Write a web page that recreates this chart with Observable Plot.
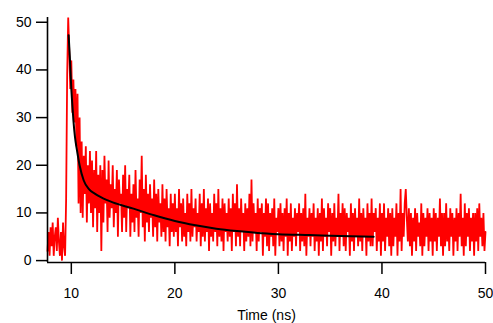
<!DOCTYPE html>
<html>
<head>
<meta charset="utf-8">
<script src="https://cdn.jsdelivr.net/npm/d3@7"></script>
<script src="https://cdn.jsdelivr.net/npm/@observablehq/plot@0.6"></script>
<style>
  html, body { margin: 0; padding: 0; background: #fff; }
  svg { display: block; }
</style>
</head>
<body>
<div id="chart"></div>
<script>
// Sampling grid of the measured decay (ns)
const tStart = 7.7;
const tStep = 0.1;

// Measured counts, one per sample from 7.7 ns to 50.0 ns
const counts = [
  2, 6, 1,
  7, 3, 8, 1, 5, 7, 2, 9, 4, 1,
  6, 0, 8, 3, 1, 13, 39, 51, 44, 36,
  42, 31, 38, 29, 36, 24, 35, 12, 30, 10,
  25, 9, 22, 14, 24, 8, 20, 12, 23, 10,
  21, 7, 19, 11, 23, 6, 18, 10, 20, 2,
  19, 8, 22, 12, 17, 6, 21, 9, 16, 11,
  20, 7, 15, 10, 19, 5, 17, 12, 14, 6,
  18, 9, 20, 6, 15, 11, 18, 5, 14, 8,
  16, 6, 19, 9, 13, 5, 17, 10, 22, 7,
  15, 4, 18, 8, 14, 6, 16, 9, 13, 5,
  17, 7, 14, 4, 15, 8, 12, 5, 16, 6,
  13, 4, 15, 7, 11, 3, 14, 6, 12, 5,
  14, 6, 11, 3, 15, 7, 12, 4, 13, 5,
  10, 3, 14, 6, 12, 4, 15, 5, 11, 7,
  13, 4, 10, 6, 14, 3, 12, 5, 15, 4,
  11, 6, 13, 2, 12, 5, 10, 4, 14, 6,
  12, 3, 15, 5, 11, 4, 13, 2, 12, 6,
  10, 4, 13, 5, 11, 2, 14, 6, 12, 3,
  16, 5, 11, 3, 13, 6, 10, 2, 12, 4,
  11, 5, 14, 3, 17, 4, 12, 6, 10, 2,
  13, 4, 11, 6, 12, 1, 10, 5, 13, 3,
  12, 2, 10, 5, 11, 3, 13, 1, 9, 6,
  11, 3, 12, 4, 10, 2, 11, 5, 13, 1,
  10, 4, 12, 2, 9, 5, 11, 3, 10, 6,
  12, 2, 10, 4, 11, 3, 14, 1, 9, 5,
  11, 3, 10, 5, 12, 2, 9, 4, 11, 1,
  10, 4, 13, 2, 11, 5, 9, 3, 12, 6,
  11, 1, 10, 4, 12, 3, 9, 5, 14, 2,
  10, 5, 12, 3, 11, 2, 10, 6, 9, 1,
  12, 4, 10, 2, 11, 5, 9, 3, 13, 4,
  10, 2, 11, 5, 9, 1, 12, 4, 10, 3,
  13, 3, 10, 6, 11, 2, 9, 4, 12, 1,
  10, 4, 12, 2, 9, 5, 11, 3, 10, 1,
  11, 3, 9, 5, 12, 1, 10, 4, 15, 2,
  10, 5, 12, 15, 9, 4, 11, 3, 10, 1,
  9, 4, 11, 2, 10, 5, 8, 3, 12, 1,
  10, 3, 9, 5, 11, 2, 10, 4, 9, 1,
  11, 4, 10, 2, 9, 5, 13, 3, 10, 1,
  10, 3, 12, 4, 9, 2, 11, 5, 10, 1,
  9, 4, 11, 2, 10, 5, 14, 3, 9, 1,
  12, 3, 10, 5, 11, 2, 9, 4, 10, 1,
  10, 4, 11, 2, 12, 5, 9, 3, 10, 2,
  6
];

// Fitted decay curve (time ns, counts)
const fitTime = [9.74, 9.85, 10.0, 10.07, 10.2, 10.35, 10.55, 10.8, 11.2, 11.7, 12.3, 12.85, 14, 16, 18, 20, 22, 24, 26, 28, 30, 33, 36, 39.2];
const fitValue = [47.3, 43, 36, 33.6, 29.5, 26, 23.1, 20, 16.8, 15, 14, 13.3, 12.2, 10.9, 9.5, 8.3, 7.4, 6.7, 6.2, 5.8, 5.55, 5.35, 5.15, 5.0];

// Axis ticks
const xTicks = [10, 20, 30, 40, 50];
const yTicks = [0, 10, 20, 30, 40, 50];
const xLabel = "Time (ns)";

const measured = counts.map((v, i) => ({t: Math.round((tStart + tStep * i) * 100) / 100, v}));
const fit = fitTime.map((t, i) => ({t, v: fitValue[i]}));

const xDomain = [7.7, 50];
const yDomain = [-0.4, 51];

const chart = Plot.plot({
  width: 493,
  height: 323,
  marginLeft: 47,
  marginRight: 8,
  marginTop: 17,
  marginBottom: 61,
  style: {fontFamily: "Liberation Sans, Arial, sans-serif", fontSize: "13.5px", background: "#fff", color: "#000"},
  x: {domain: xDomain},
  y: {domain: yDomain},
  marks: [
    Plot.line(measured, {x: "t", y: "v", stroke: "#ff0000", strokeWidth: 1.8, strokeLinejoin: "miter", strokeMiterlimit: 2}),
    Plot.line(fit, {x: "t", y: "v", stroke: "#000", strokeWidth: 2, curve: "monotone-x"}),
    Plot.ruleX([xDomain[0]], {y1: yDomain[0], y2: yDomain[1], stroke: "#000", strokeWidth: 1.6}),
    Plot.ruleY([yDomain[0]], {x1: xDomain[0], x2: xDomain[1], stroke: "#000", strokeWidth: 1.6}),
    Plot.axisX(xTicks, {tickSize: 12, tickPadding: 14, strokeWidth: 1.5, fontSize: 14, label: null}),
    Plot.axisY(yTicks, {tickSize: 11, tickPadding: 5, strokeWidth: 1.5, fontSize: 14, label: null}),
    Plot.text([xLabel], {frameAnchor: "bottom", dy: 53, fontSize: 14, lineAnchor: "middle"})
  ]
});
document.getElementById("chart").appendChild(chart);
</script>
</body>
</html>
